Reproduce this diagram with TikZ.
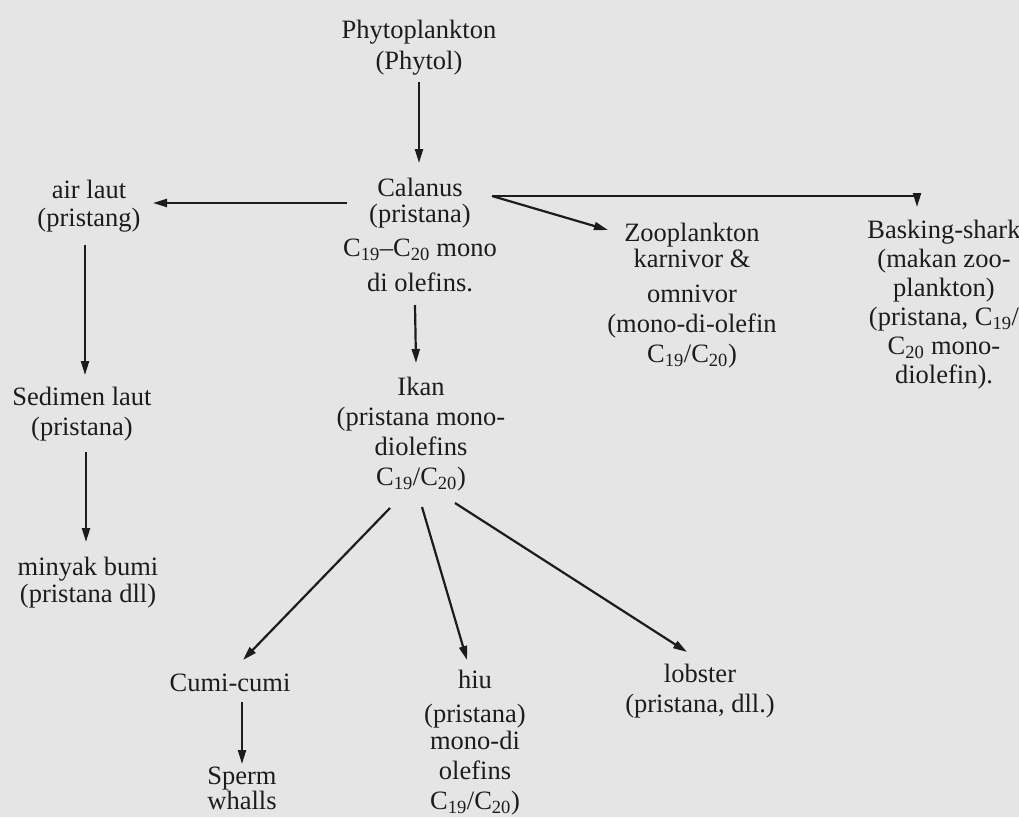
\documentclass[tikz,border=0pt]{standalone}
\usepackage{fontspec}
\setmainfont{Liberation Serif}
\usetikzlibrary{arrows.meta,calc}
\definecolor{paper}{RGB}{229,229,229}
\definecolor{ink}{RGB}{28,28,28}
\begin{document}
\begin{tikzpicture}[x=1pt,y=-1pt,
  lbl/.style={anchor=north,inner sep=0pt,align=center,text=ink,font=\fontsize{26.5}{30}\selectfont},
  arr/.style={draw=ink,line width=2.2pt,-{Triangle[length=14pt,width=8pt]}}]
\fill[paper] (0,0) rectangle (1019,817);
\useasboundingbox (0,0) rectangle (1019,817);

\node[lbl] (phyto) at (419,20) {Phytoplankton\\[1pt](Phytol)};
\node[lbl] (calanus) at (420,178) {Calanus\\[-4pt](pristana)\\[4pt]C\textsubscript{19}--C\textsubscript{20} mono\\[5pt]di olefins.};
\node[lbl] (airlaut) at (89,180) {air laut\\[-2pt](pristang)};
\node[lbl] (sedimen) at (82,387) {Sedimen laut\\(pristana)};
\node[lbl] (minyak) at (88,557) {minyak bumi\\[-3pt](pristana dll)};
\node[lbl] (ikan) at (421,377) {Ikan\\(pristana mono-\\diolefins\\C\textsubscript{19}/C\textsubscript{20})};
\node[lbl] (zoo) at (692,223) {Zooplankton\\[-4pt]karnivor \&\\[5pt]omnivor\\(mono-di-olefin\\C\textsubscript{19}/C\textsubscript{20})};
\node[lbl] (bask) at (944,220) {Basking-shark\\[-1pt](makan zoo-\\[-1pt]plankton)\\[-1pt](pristana, C\textsubscript{19}/\\[-1pt]C\textsubscript{20} mono-\\[-1pt]diolefin).};
\node[lbl] (cumi) at (230,674) {Cumi-cumi};
\node[lbl] (sperm) at (242,767) {Sperm\\[-5pt]whalls};
\node[lbl] (hiu) at (475,670) {hiu\\[4pt](pristana)\\[-3pt]mono-di\\olefins\\C\textsubscript{19}/C\textsubscript{20})};
\node[lbl] (lobster) at (700,664) {lobster\\(pristana, dll.)};

\draw[arr] ($(phyto.north)+(0,62)$) -- ($(calanus.north)+(-1,-15)$);
\draw[arr] ($(calanus.north)+(-73,25)$) -- ($(airlaut.north)+(64,23)$);
\draw[arr] ($(airlaut.north)+(-4,65)$) -- ($(sedimen.north)+(3,-12)$);
\draw[arr] ($(sedimen.north)+(4,65)$) -- ($(minyak.north)+(-2,-15)$);
\draw[arr] ($(calanus.north)+(-5,127)$) -- ($(ikan.north)+(-5,-14)$);
\draw[arr] ($(calanus.north)+(72,18)$) -- ($(zoo.north)+(-84,7)$);
\draw[arr] ($(calanus.north)+(72,18)$) -| ($(bask.north)+(-27,-13)$);
\draw[arr] ($(ikan.north)+(-31,131)$) -- ($(cumi.north)+(13,-14)$);
\draw[arr] ($(ikan.north)+(1,130)$) -- ($(hiu.north)+(-8,-10)$);
\draw[arr] ($(ikan.north)+(34,126)$) -- ($(lobster.north)+(-13,-12)$);
\draw[arr] ($(cumi.north)+(12,28)$) -- ($(sperm.north)+(0,-3)$);
\end{tikzpicture}
\end{document}
